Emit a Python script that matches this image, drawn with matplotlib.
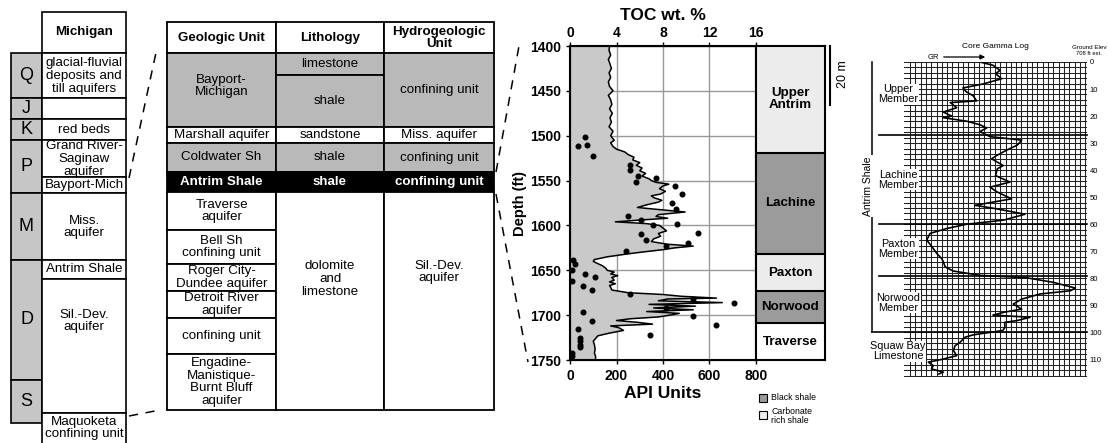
import matplotlib
matplotlib.use("Agg")
import matplotlib.pyplot as plt
from matplotlib.patches import Rectangle

plt.rcParams['font.family'] = ['Liberation Sans', 'DejaVu Sans']

''' DATA '''

# left column: periods and Michigan units
periods = ["Q", "J", "K", "P", "M", "D", "S"]
period_edges = [53, 98, 119, 140, 193, 260, 380, 423]
mich_units = ["glacial-fluvial\ndeposits and\ntill aquifers", "", "red beds",
              "Grand River-\nSaginaw\naquifer", "Bayport-Mich", "Miss.\naquifer",
              "Antrim Shale", "Sil.-Dev.\naquifer", "Maquoketa\nconfining unit"]
mich_edges = [53, 98, 119, 140, 177, 193, 260, 279, 413, 450]

# middle table
table_header = ["Geologic Unit", "Lithology", "Hydrogeologic\nUnit"]
geo_units = ["Bayport-\nMichigan", "Marshall aquifer", "Coldwater Sh", "Antrim Shale",
             "Traverse\naquifer", "Bell Sh\nconfining unit", "Roger City-\nDundee aquifer",
             "Detroit River\naquifer", "confining unit",
             "Engadine-\nManistique-\nBurnt Bluff\naquifer"]
geo_edges = [53, 127, 143, 172, 192, 230, 264, 291, 318, 354, 410]
geo_shade = ["g", "w", "g", "k", "w", "w", "w", "w", "w", "w"]
litho_units = ["limestone", "shale", "sandstone", "shale", "shale", "dolomite\nand\nlimestone"]
litho_edges = [53, 75, 127, 143, 172, 192, 410]
litho_shade = ["g", "g", "w", "g", "k", "w"]
hydro_units = ["confining unit", "Miss. aquifer", "confining unit", "confining unit",
               "Sil.-Dev.\naquifer"]
hydro_edges = [53, 127, 143, 172, 192, 410]
hydro_shade = ["g", "w", "g", "k", "w"]

# gamma ray log (depth ft, API units)
gr_depth = [1400, 1405, 1410, 1415, 1420, 1425, 1430, 1435, 1440, 1445, 1450, 1455, 1460,
            1465, 1470, 1475, 1480, 1485, 1490, 1495, 1500, 1505, 1508, 1512, 1515, 1518,
            1521, 1524, 1527, 1530, 1533, 1536, 1539, 1542, 1545, 1548, 1550, 1552, 1554,
            1556, 1559, 1562, 1565, 1567, 1569, 1572, 1574, 1577, 1580, 1582, 1585, 1588,
            1590, 1592, 1594, 1596, 1598, 1600, 1603, 1606, 1609, 1612, 1615, 1618, 1621,
            1623, 1625, 1627, 1630, 1632, 1635, 1638, 1640, 1642, 1645, 1648, 1650, 1652,
            1654, 1656, 1658, 1661, 1663, 1665, 1667, 1669, 1672, 1675, 1677, 1679, 1681,
            1682, 1684, 1686, 1688, 1690, 1692, 1694, 1696, 1698, 1700, 1702, 1704, 1706,
            1708, 1710, 1712, 1714, 1717, 1720, 1723, 1726, 1729, 1733, 1738, 1742, 1746, 1750]
gr_api = [170, 168, 175, 165, 172, 178, 168, 175, 165, 170, 185, 165, 175,
          180, 170, 182, 172, 178, 168, 185, 175, 190, 175, 185, 200, 235,
          250, 275, 270, 300, 285, 310, 300, 325, 310, 340, 350, 370, 425,
          400, 385, 410, 390, 350, 360, 395, 380, 330, 290, 370, 495, 380,
          370, 420, 300, 195, 330, 385, 400, 415, 380, 390, 360, 350, 420,
          530, 450, 400, 300, 240, 160, 105, 100, 115, 140, 155, 160, 190,
          175, 205, 180, 190, 170, 195, 170, 175, 180, 250, 400, 480, 630,
          420, 380, 655, 340, 540, 360, 530, 330, 470, 430, 380, 260, 200,
          290, 355, 175, 210, 230, 170, 120, 110, 100, 105, 108, 105, 110, 110]

# core TOC samples, plotted on API scale
toc_depth = [1501, 1512, 1510, 1523, 1533, 1538, 1545, 1552, 1547, 1556, 1565, 1575, 1582,
             1589, 1594, 1598, 1599, 1608, 1610, 1616, 1620, 1623, 1629, 1638, 1643, 1650,
             1654, 1657, 1662, 1668, 1672, 1676, 1682, 1686, 1692, 1701, 1696, 1707, 1711,
             1715, 1722, 1725, 1729, 1733, 1736, 1742, 1745, 1748]
toc_api = [64, 33, 74, 100, 257, 257, 293, 286, 371, 450, 483, 439, 457,
           250, 307, 460, 355, 551, 307, 329, 507, 414, 243, 14, 21, 7,
           64, 107, 7, 57, 96, 257, 529, 707, 414, 531, 57, 93, 629,
           36, 343, 43, 43, 43, 43, 7, 7, 0]

members = ["Upper\nAntrim", "Lachine", "Paxton", "Norwood", "Traverse"]
member_tops = [1400, 1519, 1632, 1673, 1709, 1750]
member_type = ["carb", "black", "carb", "black", "none"]

# core gamma log (depth ft, relative GR)
cg_depth = [0, 1.2, 3.1, 4.3, 6.2, 8.1, 9.6, 11, 12.5, 14.4, 15, 16.9, 18.5, 20, 20.6,
            21.9, 23.2, 24.4, 25.7, 27.6, 28.9, 30.7, 32.6, 34.6, 35.8, 38.3, 39.5, 42,
            44.4, 46.3, 48.1, 50.6, 53, 54.3, 56.3, 58.5, 60, 61.6, 63.4, 65.9, 67.2, 69,
            70.8, 72.7, 73.9, 75.8, 77.3, 78.9, 79.8, 81.5, 83.6, 84.6, 85.8, 87.7, 89.5,
            91.4, 92.5, 93.6, 94.4, 95.6, 96.3, 98.1, 99.3, 100.9, 101.8, 103.7, 104.9,
            106.7, 108.6, 110, 111, 112.3, 113.5, 114.7, 115.4]
cg_gr = [41.5, 48.6, 52.5, 50, 53.4, 43.3, 32.2, 34, 37.8, 39.7, 25.3, 28.8, 21.5, 26, 21.5,
         34.3, 41.5, 45.2, 41.5, 47, 64.3, 62, 56.1, 50.6, 47.9, 54.2, 51, 50,
         57.9, 47, 51, 58.8, 38.8, 50.6, 66.1, 54.3, 34.2, 23.3, 14.2, 12.4, 14, 16,
         17.9, 20.6, 21.5, 22.5, 26.9, 41.5, 67, 81.6, 93.6, 91, 74.3, 64.3, 59.7,
         64.3, 55, 48.6, 68.9, 62, 55, 55.2, 54, 37.9, 33.3, 30.6, 27.9,
         27, 28.8, 20.6, 13.3, 16, 15, 21.5, 19]
cg_members = ["Upper\nMember", "Lachine\nMember", "Paxton\nMember", "Norwood\nMember",
              "Squaw Bay\nLimestone"]
cg_member_mid = [12, 43.5, 69, 89, 107]
cg_bounds = [27, 60, 79, 100]
cg_ticks = [0, 10, 20, 30, 40, 50, 60, 70, 80, 90, 100, 110]

''' FIGURE '''

W, H = 1108, 443
fig = plt.figure(figsize=(W / 100, H / 100), dpi=100)
bg = fig.add_axes([0, 0, 1, 1])
bg.set_xlim(0, W)
bg.set_ylim(H, 0)
bg.axis('off')


def px_axes(x0, y0, x1, y1):
    return fig.add_axes([x0 / W, 1 - y1 / H, (x1 - x0) / W, (y1 - y0) / H])


shade = {"g": "#b9b9b9", "w": "white", "k": "black"}
fs = 9.6
ls_txt = 1.1

# left column
for i, p in enumerate(periods):
    t, b = period_edges[i], period_edges[i + 1]
    bg.add_patch(Rectangle((11, t), 31, b - t, fc="#c6c6c6", ec="black", lw=1.2))
    bg.text(26.5, (t + b) / 2, p, ha="center", va="center", fontsize=13)
bg.add_patch(Rectangle((42, 12), 84, 41, fc="white", ec="black", lw=1.2))
bg.text(84, 32, "Michigan", ha="center", va="center", fontsize=fs, fontweight="bold")
mich_text_y = [76, 108, 130, 159, 185, 227, 269, 321, 428]
for i, u in enumerate(mich_units):
    t, b = mich_edges[i], mich_edges[i + 1]
    bg.add_patch(Rectangle((42, t), 84, b - t, fc="white", ec="black", lw=1.2))
    bg.text(84, mich_text_y[i], u, ha="center", va="center", fontsize=fs, linespacing=ls_txt)

bg.plot([129, 157], [178, 48], ls=(0, (6, 5)), color="black", lw=1.1)
bg.plot([129, 160], [416, 410], ls=(0, (6, 5)), color="black", lw=1.1)

# middle table
cols = [167, 276, 384, 494]
for j, h in enumerate(table_header):
    bg.add_patch(Rectangle((cols[j], 22), cols[j + 1] - cols[j], 31, fc="white", ec="black", lw=1.3))
    bg.text((cols[j] + cols[j + 1]) / 2, 38, h, ha="center", va="center", fontsize=fs,
            fontweight="bold", linespacing=1.0)


def draw_col(j, names, edges, shades, text_y=None):
    for i, n in enumerate(names):
        t, b = edges[i], edges[i + 1]
        bg.add_patch(Rectangle((cols[j], t), cols[j + 1] - cols[j], b - t,
                               fc=shade[shades[i]], ec="black", lw=1.3))
        y = (t + b) / 2 if text_y is None or text_y[i] is None else text_y[i]
        k = shades[i] == "k"
        bg.text((cols[j] + cols[j + 1]) / 2, y, n, ha="center", va="center", fontsize=fs,
                color="white" if k else "black", fontweight="bold" if k else "normal",
                linespacing=ls_txt)


draw_col(0, geo_units, geo_edges, geo_shade, [86, None, None, None, None, None, None, None, None, None])
draw_col(1, litho_units, litho_edges, litho_shade, [None, None, None, None, None, 279])
draw_col(2, hydro_units, hydro_edges, hydro_shade, [None, None, None, None, 272])

bg.plot([496, 519], [172, 46], ls=(0, (6, 5)), color="black", lw=1.1)
bg.plot([496, 528], [194, 362], ls=(0, (6, 5)), color="black", lw=1.1)

# well log
al = px_axes(570, 46, 756, 360)
al.fill_betweenx(gr_depth, 0, gr_api, color="#c9c9c9", lw=0)
al.plot(gr_api, gr_depth, color="black", lw=1.1)
al.scatter(toc_api, toc_depth, s=11, color="black", zorder=3)
al.set_xlim(0, 800)
al.set_ylim(1750, 1400)
al.set_xticks([0, 200, 400, 600, 800])
al.set_yticks([1400, 1450, 1500, 1550, 1600, 1650, 1700, 1750])
al.grid(True, color="#999999", lw=1)
al.set_axisbelow(True)
for lab in al.get_xticklabels() + al.get_yticklabels():
    lab.set_fontweight("bold")
al.tick_params(labelsize=10, length=3, width=1)
al.set_xlabel("API Units", fontsize=12.5, fontweight="bold", labelpad=2)
al.set_ylabel("Depth (ft)", fontsize=10.5, fontweight="bold", labelpad=2)
for s in al.spines.values():
    s.set_linewidth(1.5)
at = al.twiny()
at.set_xlim(0, 16)
at.set_xticks([0, 4, 8, 12, 16])
for lab in at.get_xticklabels():
    lab.set_fontweight("bold")
at.tick_params(labelsize=10, length=3, width=1, pad=1)
at.set_xlabel("TOC wt. %", fontsize=12.5, fontweight="bold", labelpad=5)

# member column
am = px_axes(756, 46, 825, 360)
mcol = {"carb": "#ececec", "black": "#9b9b9b", "none": "white"}
for i, m in enumerate(members):
    am.axhspan(member_tops[i], member_tops[i + 1], color=mcol[member_type[i]], lw=0)
    if i > 0:
        am.axhline(member_tops[i], color="black", lw=1.5)
    am.text(0.5, (member_tops[i] + member_tops[i + 1]) / 2, m, ha="center", va="center",
            fontsize=fs, fontweight="bold", linespacing=1.0)
am.set_xlim(0, 1)
am.set_ylim(1750, 1400)
am.set_xticks([])
am.set_yticks([])
for s in am.spines.values():
    s.set_linewidth(1.5)

bg.plot([830, 830], [46, 105], color="black", lw=1.5)
bg.text(843, 74, "20 m", rotation=90, ha="center", va="center", fontsize=9)

bg.add_patch(Rectangle((759, 394), 8, 8, fc="#9b9b9b", ec="black", lw=0.8))
bg.text(771, 398, "Black shale", ha="left", va="center", fontsize=6.3)
bg.add_patch(Rectangle((759, 411), 8, 8, fc="#ececec", ec="black", lw=0.8))
bg.text(771, 416, "Carbonate\nrich shale", ha="left", va="center", fontsize=6.3, linespacing=1.0)

# core gamma log panel
ag = px_axes(904, 62, 1087, 377)
ag.set_xlim(0, 100)
ag.set_ylim(116.5, 0)
for d in range(0, 117, 2):
    ag.axhline(d, color="#222222", lw=0.75)
x = 3.3
while x <= 100.5:
    ag.axvline(x, color="#222222", lw=0.75)
    x += 2.9
for d in cg_bounds:
    ag.plot([-13.7 if d < 100 else -17.5, 100], [d, d], color="black", lw=1.2, clip_on=False)
ag.plot(cg_gr, cg_depth, color="black", lw=1.2, zorder=3)
ag.plot([-17.5, -17.5], [0, 100], color="black", lw=1.1, clip_on=False)
ag.text(-19.5, 46, "Antrim Shale", rotation=90, ha="center", va="center", fontsize=7.5,
        bbox=dict(fc="white", ec="none", pad=1), clip_on=False)
for i, m in enumerate(cg_members):
    ag.text(-3.3, cg_member_mid[i], m, ha="center", va="center", fontsize=7.8,
            linespacing=1.0, bbox=dict(fc="white", ec="none", pad=0.5), zorder=4)
for s in ag.spines.values():
    s.set_visible(False)
ag.set_xticks([])
ag.set_yticks(cg_ticks)
ag.yaxis.tick_right()
ag.tick_params(axis="y", length=0, labelsize=5.5, pad=2)

bg.text(995, 46, "Core Gamma Log", ha="center", va="center", fontsize=6)
bg.text(933, 57, "GR", ha="center", va="center", fontsize=5.5)
bg.annotate("", xy=(988, 57), xytext=(941, 57),
            arrowprops=dict(arrowstyle="-|>", color="black", lw=0.9, mutation_scale=7))
bg.text(1089, 47, "Ground Elev", ha="center", va="center", fontsize=4.5)
bg.text(1089, 53, "708 ft est.", ha="center", va="center", fontsize=4.2)

fig.savefig("out.png", dpi=100)
